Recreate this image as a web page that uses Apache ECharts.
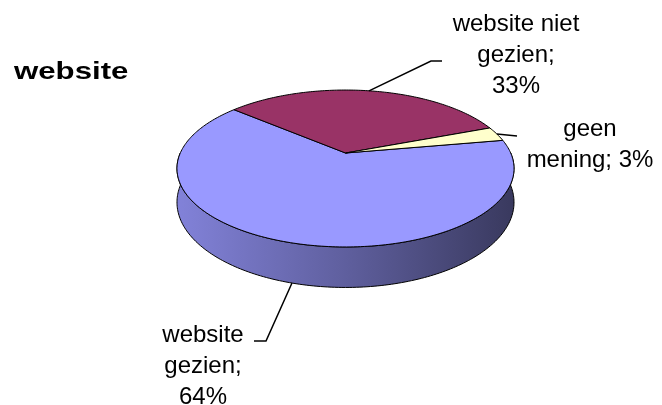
<!DOCTYPE html>
<html>
<head>
<meta charset="utf-8">
<script src="https://cdn.jsdelivr.net/npm/echarts@6/dist/echarts.min.js"></script>
<style>
  html, body { margin: 0; padding: 0; background: #fff; }
  #chart { width: 662px; height: 405px; }
</style>
</head>
<body>
<div id="chart"></div>
<script>
// data
const categories = ['website gezien', 'website niet gezien', 'geen mening'];
const shares = [64, 33, 3];
const labelTexts = ['website\ngezien;\n64%', 'website niet\ngezien;\n33%', 'geen\nmening; 3%'];
const sliceColors = ['#9999ff', '#993366', '#ffffcc'];

// 3d look of the Excel pie (perspective squashed disc)
const pie = { cx: 345.5, cy: 153, rx: 165.2, ry: 75.4, tilt: 0.1975, depth: 32.5, start: -10 };
// where the labels sit, and the bends of their leader lines
const labelSpots = [
  { x: 203, y: 320, leader: [[266, 341], [254, 341]] },
  { x: 516, y: 9, leader: [[431, 61], [442, 61]] },
  { x: 590, y: 114, leader: [[517, 136]] }
];

const total = shares.reduce((a, b) => a + b, 0);

function project(deg, z) {
  let a = deg * Math.PI / 180, v = Math.sin(a), w = 1 - pie.tilt * v;
  return [pie.cx + pie.rx * Math.cos(a) / w, pie.cy + (pie.ry * v + z * pie.depth) / w];
}
function arc(a0, a1, z) {
  let n = Math.max(2, Math.ceil(Math.abs(a1 - a0))), pts = [];
  for (let i = 0; i <= n; i++) pts.push(project(a0 + (a1 - a0) * i / n, z));
  return pts;
}
function frontParts(a0, a1) {
  let out = [];
  [-360, 0, 360].forEach((k) => {
    let lo = Math.max(a0, k), hi = Math.min(a1, k + 180);
    if (hi > lo) out.push([lo, hi]);
  });
  return out;
}
// darken a colour towards black
function shade(color, f) {
  let c = echarts.color.parse(color);
  return 'rgb(' + [0, 1, 2].map((k) => Math.round(c[k] * f)).join(',') + ')';
}

function renderItem(params, api) {
  let i = params.dataIndex;
  let before = shares.slice(0, i).reduce((a, b) => a + b, 0);
  let a0 = pie.start + before / total * 360;
  let a1 = a0 + api.value(0) / total * 360;
  let color = sliceColors[i];
  let children = [];

  frontParts(a0, a1).forEach((p) => {
    let pts = arc(p[0], p[1], 0).concat(arc(p[1], p[0], 1));
    children.push({
      type: 'polygon',
      shape: { points: pts },
      style: {
        fill: new echarts.graphic.LinearGradient(pie.cx - pie.rx * 1.02, 0, pie.cx + pie.rx * 1.02, 0, [
          { offset: 0, color: shade(color, 0.85) },
          { offset: 0.5, color: shade(color, 0.62) },
          { offset: 1, color: shade(color, 0.37) }
        ], true),
        stroke: '#000',
        lineWidth: 1
      }
    });
  });

  children.push({
    type: 'polygon',
    shape: { points: [[pie.cx, pie.cy]].concat(arc(a0, a1, 0)) },
    style: { fill: color, stroke: '#000', lineWidth: 1 }
  });

  let mid = (a0 + a1) / 2;
  let spot = labelSpots[i];
  let from = project(mid, Math.sin(mid * Math.PI / 180) > 0 ? 1 : 0);
  children.push({
    type: 'polyline',
    shape: { points: [from].concat(spot.leader) },
    style: { stroke: '#000', lineWidth: 1.5, fill: null }
  });
  children.push({
    type: 'text',
    x: spot.x,
    y: spot.y,
    style: {
      text: labelTexts[i],
      font: '24px "Liberation Sans", Arial, sans-serif',
      fill: '#000',
      align: 'center',
      verticalAlign: 'top',
      lineHeight: 31
    }
  });

  return { type: 'group', children: children };
}

let myChart = echarts.init(document.getElementById('chart'));
myChart.setOption({
  animation: false,
  backgroundColor: '#fff',
  graphic: [{
    type: 'text',
    x: 14,
    y: 60,
    scaleX: 1.3,
    style: {
      text: 'website',
      font: 'bold 24px "Liberation Sans", Arial, sans-serif',
      fill: '#000'
    }
  }],
  series: [{
    type: 'custom',
    coordinateSystem: 'none',
    silent: true,
    renderItem: renderItem,
    data: shares.map((v, k) => ({ name: categories[k], value: [v] }))
  }]
});
</script>
</body>
</html>
